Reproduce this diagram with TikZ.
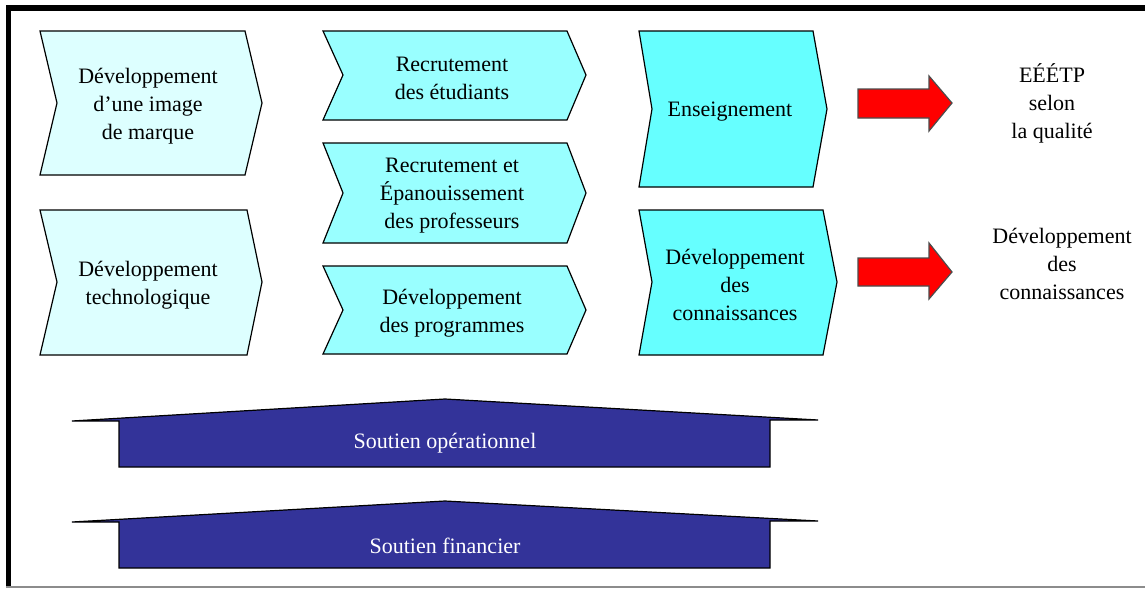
\documentclass[tikz,border=0pt]{standalone}
\usepackage{fontspec}
\setmainfont{Liberation Serif}
\definecolor{palecyan}{HTML}{DDFFFF}
\definecolor{midcyan}{HTML}{99FFFF}
\definecolor{deepcyan}{HTML}{66FFFF}
\definecolor{supportblue}{HTML}{333399}
\begin{document}
\begin{tikzpicture}[x=0.5pt,y=-0.5pt,
  chevron/.style={draw=black,line width=0.6pt,line join=miter},
  label/.style={align=center,font=\fontsize{11}{14}\selectfont,inner sep=0pt,yshift=-1.5pt},
  redarrow/.style={draw=black!70,fill=red,line width=0.6pt},
  support/.style={draw=black,fill=supportblue,line width=0.6pt},
  supportlabel/.style={label,text=white}]
\useasboundingbox (0,0) rectangle (1145,589);
% outer frame
\fill[black] (6,5) rectangle (1145,11);
\fill[black] (6,5) rectangle (11,587);
\draw[black!45,line width=0.8pt] (6,587) -- (1145,587);

% left column
\draw[chevron,fill=palecyan] (40,31) -- (245,31) -- (262,103) -- (245,175) -- (40,175) -- (57,103) -- cycle;
\node[label] (img) at (148,103) {Développement\\d’une image\\de marque};
\draw[chevron,fill=palecyan] (40,210) -- (247,210) -- (262,282) -- (247,355) -- (40,355) -- (57,282) -- cycle;
\node[label] (tech) at (148,282) {Développement\\technologique};

% middle column
\draw[chevron,fill=midcyan] (323,31) -- (567,31) -- (586,75) -- (567,120) -- (323,120) -- (343,75) -- cycle;
\node[label] (etud) at (452,75) {Recrutement\\des étudiants};
\draw[chevron,fill=midcyan] (323,143) -- (567,143) -- (586,193) -- (567,243) -- (323,243) -- (343,193) -- cycle;
\node[label] (prof) at (452,193) {Recrutement et\\Épanouissement\\des professeurs};
\draw[chevron,fill=midcyan] (323,266) -- (567,266) -- (586,310) -- (567,354) -- (323,354) -- (343,310) -- cycle;
\node[label] (prog) at (452,310) {Développement\\des programmes};

% right column
\draw[chevron,fill=deepcyan] (639,31) -- (813,31) -- (827,109) -- (813,187) -- (639,187) -- (652,109) -- cycle;
\node[label] (ens) at (730,109) {Enseignement};
\draw[chevron,fill=deepcyan] (639,210) -- (823,210) -- (837,282) -- (823,355) -- (639,355) -- (652,282) -- cycle;
\node[label] (conn) at (735,282) {Développement\\des\\connaissances};

% block arrows
\draw[redarrow] (858,89) -- (929,89) -- (929,76) -- (952,103) -- (929,131) -- (929,118) -- (858,118) -- cycle;
\draw[redarrow] (858,258) -- (929,258) -- (929,243) -- (952,272) -- (929,299) -- (929,286) -- (858,286) -- cycle;

% outcomes
\node[label] (eeetp) at (1052,100) {EÉÉTP\\selon\\la qualité};
\node[label] (devc) at (1062,261) {Développement\\des\\connaissances};

% support bars
\draw[support] (72,421) -- (445,399) -- (818,420) -- (770,420) -- (770,467) -- (119,467) -- (119,421) -- cycle;
\node[supportlabel] (oper) at (445,440) {Soutien opérationnel};
\draw[support] (72,522) -- (445,501) -- (818,521) -- (770,521) -- (770,568) -- (119,568) -- (119,522) -- cycle;
\node[supportlabel] (fin) at (445,543) {Soutien financier};
\end{tikzpicture}
\end{document}
